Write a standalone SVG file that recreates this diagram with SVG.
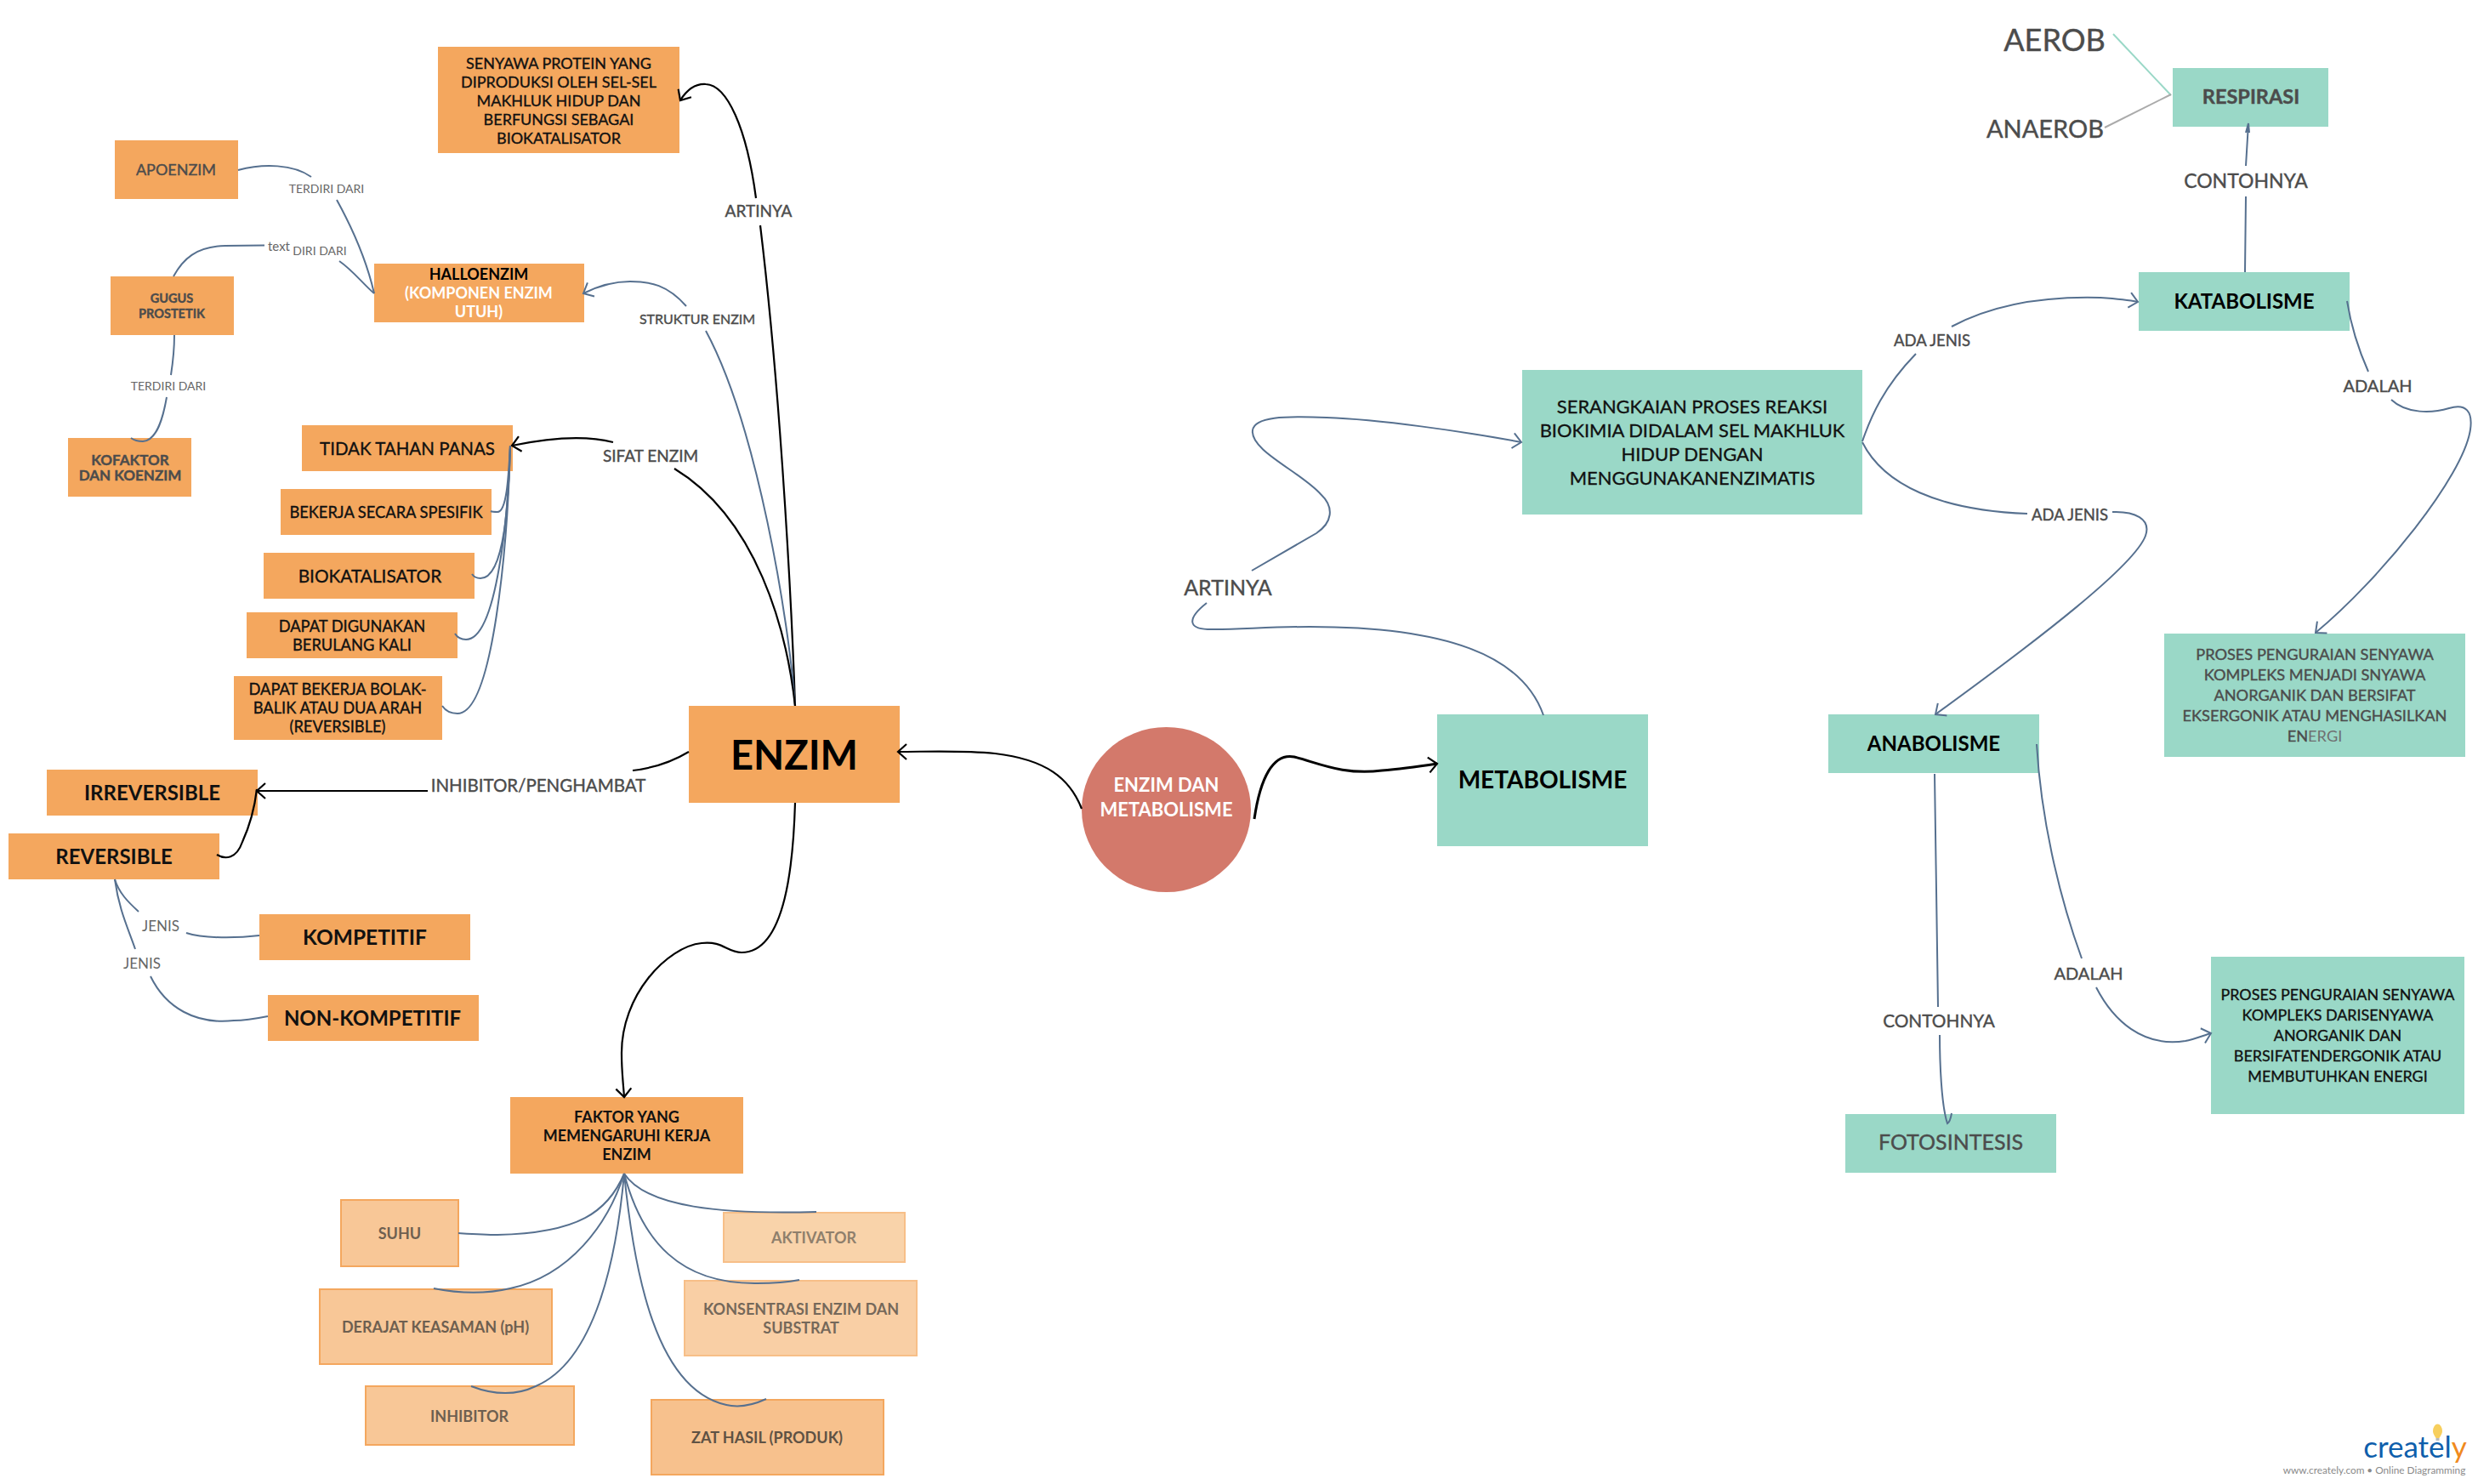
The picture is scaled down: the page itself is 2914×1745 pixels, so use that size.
<svg xmlns="http://www.w3.org/2000/svg" width="2914" height="1745" viewBox="0 0 2914 1745">
<style>
text{font-family:Lato,"Liberation Sans",sans-serif;text-anchor:middle}
.or{fill:#f4a75e}.te{fill:#9ad8c7}
.dk{fill:#4c4c4c;stroke:#4c4c4c;stroke-width:.4}.wh{fill:#fff}.b{font-weight:700}
.m{stroke:#111;stroke-width:.35}
.lb{fill:#4c4c4c;stroke:#4c4c4c;stroke-width:.4}.lb2{fill:#666}
.c{fill:none;stroke:#56708f;stroke-width:2}
.k{fill:none;stroke:#000;stroke-width:2.2}
.a{marker-end:url(#ab)}.ka{marker-end:url(#ak)}
.f{stroke:#f4a75e;stroke-width:2}
</style>
<defs>
<marker id="ab" markerUnits="userSpaceOnUse" markerWidth="30" markerHeight="30" refX="15" refY="15" orient="auto"><path d="M5 6L15 15L5 24" fill="none" stroke="#56708f" stroke-width="2"/></marker>
<marker id="ak" markerUnits="userSpaceOnUse" markerWidth="30" markerHeight="30" refX="15" refY="15" orient="auto"><path d="M5 6L15 15L5 24" fill="none" stroke="#000" stroke-width="2.2"/></marker>
</defs>
<rect width="2914" height="1745" fill="#fff"/>
<g id="nodes" fill="#111">
<g id="n-senyawa"><rect class="or" x="515" y="55" width="284" height="125"/><g class="m" font-size="18"><text x="657" y="81">SENYAWA PROTEIN YANG</text><text x="657" y="103">DIPRODUKSI OLEH SEL-SEL</text><text x="657" y="125">MAKHLUK HIDUP DAN</text><text x="657" y="147">BERFUNGSI SEBAGAI</text><text x="657" y="169">BIOKATALISATOR</text></g></g>
<g id="n-apoenzim"><rect class="or" x="135" y="165" width="145" height="69"/><text class="dk" x="207" y="206" font-size="18">APOENZIM</text></g>
<g id="n-gugus"><rect class="or" x="130" y="325" width="145" height="69"/><g class="b" font-size="14.5"><text class="dk" x="202" y="356">GUGUS</text><text class="dk" x="202" y="374">PROSTETIK</text></g></g>
<g id="n-kofaktor"><rect class="or" x="80" y="515" width="145" height="69"/><g class="b" font-size="17"><text class="dk" x="153" y="547">KOFAKTOR</text><text class="dk" x="153" y="565">DAN KOENZIM</text></g></g>
<g id="n-halloenzim"><rect class="or" x="440" y="310" width="247" height="69"/><g font-size="18"><text class="b" x="563" y="329" fill="#000">HALLOENZIM</text><text class="wh b" x="563" y="351">(KOMPONEN ENZIM</text><text class="wh b" x="563" y="373">UTUH)</text></g></g>
<g id="n-tidak"><rect class="or" x="355" y="500" width="248" height="54"/><text class="m" x="479" y="535" font-size="20.5">TIDAK TAHAN PANAS</text></g>
<g id="n-bekerja"><rect class="or" x="330" y="575" width="248" height="54"/><text class="m" x="454" y="609" font-size="18.3">BEKERJA SECARA SPESIFIK</text></g>
<g id="n-biokatalisator"><rect class="or" x="310" y="650" width="248" height="54"/><text class="m" x="435" y="685" font-size="20.800">BIOKATALISATOR</text></g>
<g id="n-digunakan"><rect class="or" x="290" y="720" width="248" height="54"/><g class="m" font-size="18.3"><text x="414" y="743">DAPAT DIGUNAKAN</text><text x="414" y="765">BERULANG KALI</text></g></g>
<g id="n-bolak"><rect class="or" x="275" y="795" width="245" height="75"/><g class="m" font-size="18.3"><text x="397" y="817">DAPAT BEKERJA BOLAK-</text><text x="397" y="839">BALIK ATAU DUA ARAH</text><text x="397" y="861">(REVERSIBLE)</text></g></g>
<g id="n-irreversible"><rect class="or" x="55" y="905" width="248" height="54"/><text class="b" x="179" y="941" font-size="24">IRREVERSIBLE</text></g>
<g id="n-reversible"><rect class="or" x="10" y="980" width="248" height="54"/><text class="b" x="134" y="1016" font-size="24">REVERSIBLE</text></g>
<g id="n-enzim"><rect class="or" x="810" y="830" width="248" height="114"/><text class="b" x="934" y="905" font-size="47" fill="#000">ENZIM</text></g>
<g id="n-kompetitif"><rect class="or" x="305" y="1075" width="248" height="54"/><text class="b" x="429" y="1111" font-size="24.500">KOMPETITIF</text></g>
<g id="n-non"><rect class="or" x="315" y="1170" width="248" height="54"/><text class="b" x="438" y="1206" font-size="24">NON-KOMPETITIF</text></g>
<g id="n-faktor"><rect class="or" x="600" y="1290" width="274" height="90"/><g class="b" font-size="18"><text x="737" y="1320">FAKTOR YANG</text><text x="737" y="1342">MEMENGARUHI KERJA</text><text x="737" y="1364">ENZIM</text></g></g>
<g id="n-suhu"><rect class="f" x="401" y="1411" width="138" height="78" fill="#f8c797"/><text class="b" x="470" y="1457" font-size="18" fill="#6e5f50">SUHU</text></g>
<g id="n-derajat"><rect class="f" x="376" y="1516" width="273" height="88" fill="#f8c797"/><text class="b" x="512" y="1567" font-size="18" fill="#6e5f50">DERAJAT KEASAMAN (pH)</text></g>
<g id="n-inhibitor"><rect class="f" x="430" y="1630" width="245" height="69" fill="#f8c797"/><text class="b" x="552" y="1672" font-size="18" fill="#6e5f50">INHIBITOR</text></g>
<g id="n-aktivator"><rect x="851" y="1426" width="213" height="58" fill="#f9d3aa" stroke="#f7bf88" stroke-width="2"/><text class="b" x="957" y="1462" font-size="18" fill="#8f7f6c">AKTIVATOR</text></g>
<g id="n-konsentrasi"><rect x="805" y="1506" width="273" height="88" fill="#f9cfa5" stroke="#f7bf88" stroke-width="2"/><g class="b" font-size="18" fill="#75685a"><text x="942" y="1546">KONSENTRASI ENZIM DAN</text><text x="942" y="1568">SUBSTRAT</text></g></g>
<g id="n-zat"><rect class="f" x="766" y="1646" width="273" height="88" fill="#f7c18d"/><text class="b" x="902" y="1697" font-size="18" fill="#5f5244">ZAT HASIL (PRODUK)</text></g>
<g id="n-center"><ellipse cx="1371.5" cy="952" rx="99.5" ry="97" fill="#d3796b"/><g class="b" font-size="22"><text class="wh" x="1371.5" y="931">ENZIM DAN</text><text class="wh" x="1371.5" y="960">METABOLISME</text></g></g>
<g id="n-metabolisme"><rect class="te" x="1690" y="840" width="248" height="155"/><text class="b" x="1814" y="927" font-size="28" fill="#000">METABOLISME</text></g>
<g id="n-serangkaian"><rect class="te" x="1790" y="435" width="400" height="170"/><g class="m" font-size="21.900"><text x="1990" y="486">SERANGKAIAN PROSES REAKSI</text><text x="1990" y="514">BIOKIMIA DIDALAM SEL MAKHLUK</text><text x="1990" y="542">HIDUP DENGAN</text><text x="1990" y="570">MENGGUNAKANENZIMATIS</text></g></g>
<g id="n-respirasi"><rect class="te" x="2555" y="80" width="183" height="69"/><text class="dk b" x="2647" y="122" font-size="23.500">RESPIRASI</text></g>
<g id="n-katabolisme"><rect class="te" x="2515" y="320" width="248" height="69"/><text class="b" x="2639" y="363" font-size="24" fill="#000">KATABOLISME</text></g>
<g id="n-anabolisme"><rect class="te" x="2150" y="840" width="248" height="69"/><text class="b" x="2274" y="883" font-size="24" fill="#000">ANABOLISME</text></g>
<g id="n-proses1"><rect class="te" x="2545" y="745" width="354" height="145"/><g font-size="18.2"><text class="dk" x="2722" y="776">PROSES PENGURAIAN SENYAWA</text><text class="dk" x="2722" y="800">KOMPLEKS MENJADI SNYAWA</text><text class="dk" x="2722" y="824">ANORGANIK DAN BERSIFAT</text><text class="dk" x="2722" y="848">EKSERGONIK ATAU MENGHASILKAN</text><text class="dk" x="2722" y="872">EN<tspan style="fill:#6f6f6f;stroke:none">ERGI</tspan></text></g></g>
<g id="n-proses2"><rect class="te" x="2600" y="1125" width="298" height="185"/><g class="m" font-size="17.900"><text x="2749" y="1176">PROSES PENGURAIAN SENYAWA</text><text x="2749" y="1200">KOMPLEKS DARISENYAWA</text><text x="2749" y="1224">ANORGANIK DAN</text><text x="2749" y="1248">BERSIFATENDERGONIK ATAU</text><text x="2749" y="1272">MEMBUTUHKAN ENERGI</text></g></g>
<g id="n-fotosintesis"><rect class="te" x="2170" y="1310" width="248" height="69"/><text class="dk" x="2294" y="1352" font-size="25">FOTOSINTESIS</text></g>
</g>
<g id="connectors">
<path class="k ka" d="M935 830C932 740 920 480 894 265M889 233C878 150 855 100 830 99C815 98 805 110 800 118"/>
<path class="c a" d="M935 830C928 730 890 500 830 389M807 360C785 335 765 331 741 331C720 331 700 338 686 345"/>
<path class="k ka" d="M935 830C925 740 890 610 793 551M721 520C690 512 650 514 602 524"/>
<path class="k ka" d="M810 884C790 896 770 903 744 906M503 930L302 930"/>
<path class="k" d="M255 1005C265 1011 278 1010 285 990C295 968 300 945 302 928"/>
<path class="k ka" d="M1272 951C1258 915 1230 893 1170 886C1130 882 1090 884 1056 884"/>
<path class="k ka" style="stroke-width:3" d="M1475 963C1482 915 1497 885 1522 890C1550 897 1580 912 1625 906C1650 904 1670 901 1690 898"/>
<path class="k ka" d="M935 944C933 1010 925 1120 872 1120C855 1120 850 1106 825 1109C785 1113 730 1170 731 1240C731 1260 733 1275 734 1290"/>
<path class="c" d="M280 200C310 192 345 193 366 208M396 235C418 275 432 310 440 345"/>
<path class="c" d="M204 325C215 305 230 290 265 289L311 288.500M399 307C415 318 428 335 440 345"/>
<path class="c" d="M205 394C205 410 203 428 201 441M196 467C192 490 185 518 168 519C162 519 158 518 154 515"/>
<path class="c" d="M600 524C598 560 596 602 585 602C581 602 579 602 577 601"/>
<path class="c" d="M600 524C598 580 595 680 565 680C560 680 557 678 555 675"/>
<path class="c" d="M600 524C598 600 585 752 548 752C542 752 538 750 535 745"/>
<path class="c" d="M600 524C597 640 580 839 538 839C530 839 524 836 520 830"/>
<path class="c" d="M135 1034C140 1050 150 1060 163 1072M219 1097C240 1104 280 1103 305 1100"/>
<path class="c" d="M135 1034C140 1070 150 1090 159 1116M177 1148C195 1185 230 1205 275 1200C290 1200 305 1197 315 1195"/>
<path class="c" d="M734 1380C715 1425 680 1450 585 1452C570 1452 555 1451 539 1450"/>
<path class="c" d="M734 1380C715 1440 670 1500 600 1515C570 1522 540 1521 510 1515"/>
<path class="c" d="M734 1380C725 1480 700 1600 630 1630C605 1642 580 1640 554 1630"/>
<path class="c" d="M734 1380C745 1490 770 1640 860 1653C875 1655 890 1650 901 1645"/>
<path class="c" d="M734 1380C755 1460 800 1510 890 1509C905 1509 925 1508 940 1505"/>
<path class="c" d="M734 1380C760 1420 850 1428 960 1425"/>
<path class="c a" d="M1815 841C1790 770 1700 737 1540 737C1490 737 1450 741 1420 740C1398 739 1395 728 1419 709M1472 671L1548 627C1566 615 1570 597 1553 581C1530 555 1470 530 1473 506C1475 490 1510 489 1560 491C1620 493 1720 507 1789 520"/>
<path class="c a" d="M2190 519C2200 490 2215 455 2253 416M2295 384C2340 360 2400 348 2470 350C2485 351 2500 352 2514 355"/>
<path class="c a" d="M2190 520C2215 570 2280 600 2384 604M2484 602C2510 601 2530 610 2523 630C2510 665 2400 750 2276 840"/>
<path class="c" d="M2640 320L2641 231M2641 195L2644 145M2641 156L2644 145L2645 156"/>
<path d="M2485 40L2553 112" fill="none" stroke="#9ad8c7" stroke-width="2"/>
<path d="M2475 150L2553 111" fill="none" stroke="#aaa" stroke-width="2"/>
<path class="c a" d="M2760 354C2765 385 2773 410 2785 437M2812 470C2830 487 2860 486 2880 480C2900 474 2908 484 2905 505C2897 560 2800 680 2723 744"/>
<path class="c" d="M2275 910L2279 1184M2281 1217C2281 1250 2283 1300 2290 1321C2292 1320 2294 1315 2295 1309"/>
<path class="c a" d="M2395 875C2400 960 2420 1050 2448 1127M2465 1161C2485 1200 2520 1232 2570 1224C2580 1222 2590 1218 2600 1215"/>
<g id="labels">
<text class="lb" x="892" y="255" font-size="19">ARTINYA</text>
<text class="lb2" x="384" y="227" font-size="14">TERDIRI DARI</text>
<text class="lb2" x="328" y="295" font-size="15">text</text>
<text class="lb2" x="376" y="300" font-size="14">DIRI DARI</text>
<text class="lb2" x="198" y="459" font-size="14">TERDIRI DARI</text>
<text class="lb" x="820" y="381" font-size="16">STRUKTUR ENZIM</text>
<text class="lb" x="765" y="543" font-size="19">SIFAT ENZIM</text>
<text class="lb" x="633" y="931" font-size="20.500">INHIBITOR/PENGHAMBAT</text>
<text class="lb2" x="189" y="1095" font-size="17">JENIS</text>
<text class="lb2" x="167" y="1139" font-size="17">JENIS</text>
<text class="lb" x="1444" y="700" font-size="25">ARTINYA</text>
<text class="lb" x="2416" y="60" font-size="36">AEROB</text>
<text class="lb" x="2405" y="162" font-size="29">ANAEROB</text>
<text class="lb" x="2641" y="221" font-size="23">CONTOHNYA</text>
<text class="lb" x="2272" y="407" font-size="18.500">ADA JENIS</text>
<text class="lb" x="2434" y="612" font-size="18.500">ADA JENIS</text>
<text class="lb" x="2796" y="461" font-size="20">ADALAH</text>
<text class="lb" x="2456" y="1152" font-size="20">ADALAH</text>
<text class="lb" x="2280" y="1208" font-size="20.800">CONTOHNYA</text>
</g>
</g>
<g id="logo">
<path d="M2861 1683a5.500 8.500 0 1 1 11 0c0 3-2 5-3.500 8h-4c-1.500-3-3.500-5-3.500-8z" fill="#f7cf5d"/><rect x="2864.500" y="1691" width="4" height="3" fill="#bbb"/>
<text x="2840" y="1714" font-size="35" fill="#0f5fac">createl<tspan fill="#f08a1e">y</tspan></text>
<text x="2792" y="1733" font-size="11.8" fill="#8a8a8a">www.creately.com • Online Diagramming</text>
</g>
</svg>
